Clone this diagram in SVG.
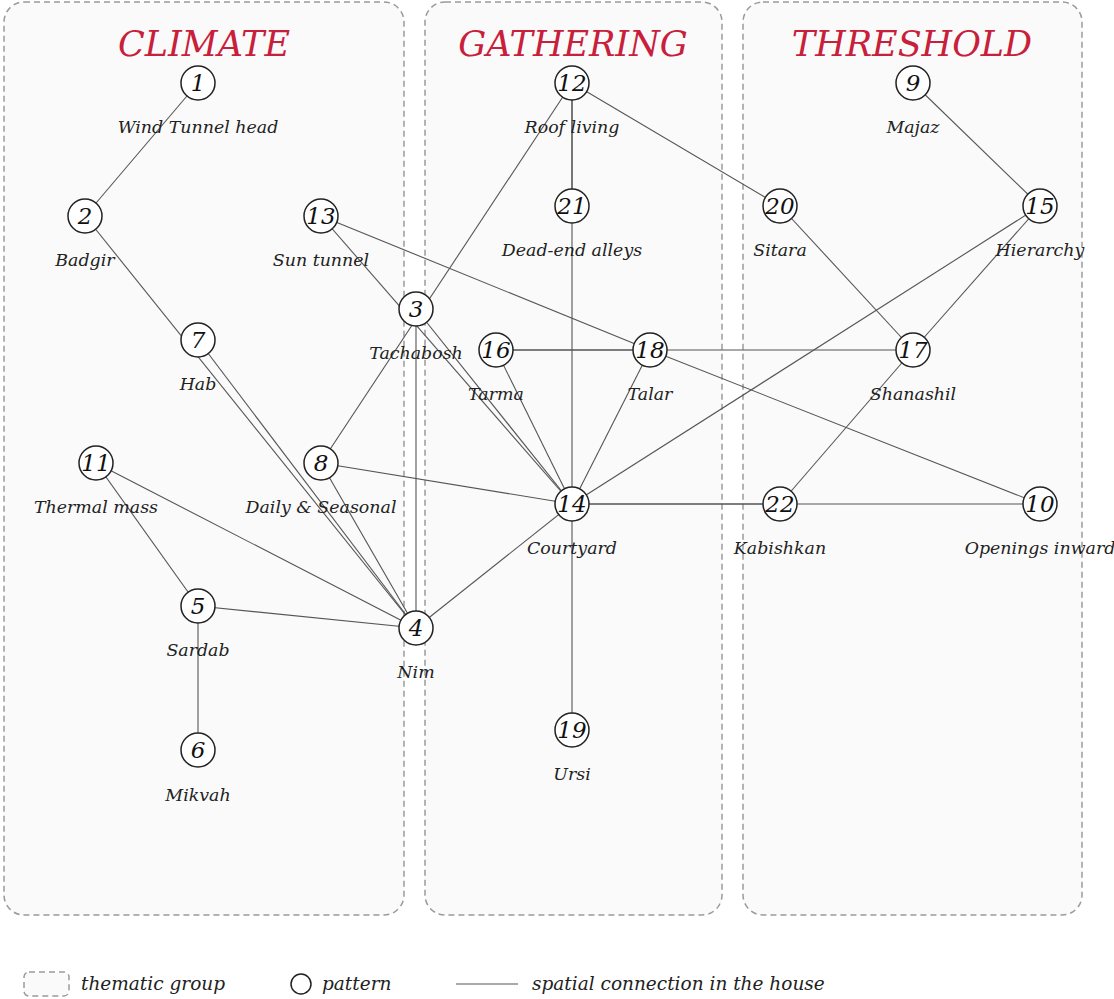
<svg xmlns="http://www.w3.org/2000/svg" width="1114" height="999" viewBox="0 0 1114 999">
<style>
.grp{fill:#fafafa;stroke:#9a9a9a;stroke-width:1.5;stroke-dasharray:6 4}
.title{font-family:"DejaVu Serif",serif;font-style:italic;font-size:35px;fill:#c8203a;text-anchor:middle}
.edge{stroke:#555;stroke-width:1.1;fill:none}
.node circle{fill:#fff;stroke:#222;stroke-width:1.5}
.num{font-family:"DejaVu Serif",serif;font-style:italic;font-size:23px;fill:#111;text-anchor:middle}
.lbl{font-family:"DejaVu Serif",serif;font-style:italic;font-size:17.4px;fill:#222;text-anchor:middle}
.leg{font-family:"DejaVu Serif",serif;font-style:italic;font-size:18.5px;fill:#222}
</style>
<rect width="1114" height="999" fill="#fff"/>
<g id="groups">
<rect class="grp" x="4" y="2" width="400" height="913" rx="20"/>
<rect class="grp" x="425" y="2" width="297" height="913" rx="20"/>
<rect class="grp" x="743" y="2" width="339" height="913" rx="20"/>
<text class="title" x="204" y="56">CLIMATE</text>
<text class="title" x="573" y="56">GATHERING</text>
<text class="title" x="912" y="56">THRESHOLD</text>
</g>
<g id="connectors">
<line class="edge" x1="198" y1="83" x2="85" y2="216"/>
<line class="edge" x1="85" y1="216" x2="416" y2="628"/>
<line class="edge" x1="198" y1="340" x2="416" y2="628"/>
<line class="edge" x1="321" y1="216" x2="572" y2="504"/>
<line class="edge" x1="321" y1="216" x2="650" y2="350"/>
<line class="edge" x1="572" y1="83" x2="321" y2="463"/>
<line class="edge" x1="416" y1="309" x2="416" y2="628"/>
<line class="edge" x1="416" y1="309" x2="572" y2="504"/>
<line class="edge" x1="321" y1="463" x2="572" y2="504"/>
<line class="edge" x1="321" y1="463" x2="416" y2="628"/>
<line class="edge" x1="96" y1="463" x2="416" y2="628"/>
<line class="edge" x1="96" y1="463" x2="198" y2="606"/>
<line class="edge" x1="198" y1="606" x2="416" y2="628"/>
<line class="edge" x1="198" y1="606" x2="198" y2="750"/>
<line class="edge" x1="416" y1="628" x2="572" y2="504"/>
<line class="edge" x1="572" y1="83" x2="572" y2="206"/>
<line class="edge" x1="572" y1="83" x2="572" y2="504"/>
<line class="edge" x1="572" y1="504" x2="572" y2="730"/>
<line class="edge" x1="572" y1="83" x2="780" y2="206"/>
<line class="edge" x1="496" y1="350" x2="650" y2="350"/>
<line class="edge" x1="496" y1="350" x2="913" y2="350"/>
<line class="edge" x1="496" y1="350" x2="572" y2="504"/>
<line class="edge" x1="650" y1="350" x2="572" y2="504"/>
<line class="edge" x1="650" y1="350" x2="1040" y2="504"/>
<line class="edge" x1="572" y1="504" x2="1040" y2="206"/>
<line class="edge" x1="572" y1="504" x2="780" y2="504"/>
<line class="edge" x1="572" y1="504" x2="1040" y2="504"/>
<line class="edge" x1="780" y1="504" x2="913" y2="350"/>
<line class="edge" x1="780" y1="206" x2="913" y2="350"/>
<line class="edge" x1="913" y1="83" x2="1040" y2="206"/>
<line class="edge" x1="1040" y1="206" x2="913" y2="350"/>
</g>
<g id="n1" class="node"><circle cx="198" cy="83" r="17"/><text class="num" x="198" y="91">1</text><text class="lbl" x="198" y="133">Wind Tunnel head</text></g>
<g id="n2" class="node"><circle cx="85" cy="216" r="17"/><text class="num" x="85" y="224">2</text><text class="lbl" x="85" y="266">Badgir</text></g>
<g id="n13" class="node"><circle cx="321" cy="216" r="17"/><text class="num" x="321" y="224">13</text><text class="lbl" x="321" y="266">Sun tunnel</text></g>
<g id="n3" class="node"><circle cx="416" cy="309" r="17"/><text class="num" x="416" y="317">3</text><text class="lbl" x="416" y="359">Tachabosh</text></g>
<g id="n7" class="node"><circle cx="198" cy="340" r="17"/><text class="num" x="198" y="348">7</text><text class="lbl" x="198" y="390">Hab</text></g>
<g id="n11" class="node"><circle cx="96" cy="463" r="17"/><text class="num" x="96" y="471">11</text><text class="lbl" x="96" y="513">Thermal mass</text></g>
<g id="n8" class="node"><circle cx="321" cy="463" r="17"/><text class="num" x="321" y="471">8</text><text class="lbl" x="321" y="513">Daily &amp; Seasonal</text></g>
<g id="n5" class="node"><circle cx="198" cy="606" r="17"/><text class="num" x="198" y="614">5</text><text class="lbl" x="198" y="656">Sardab</text></g>
<g id="n4" class="node"><circle cx="416" cy="628" r="17"/><text class="num" x="416" y="636">4</text><text class="lbl" x="416" y="678">Nim</text></g>
<g id="n6" class="node"><circle cx="198" cy="750" r="17"/><text class="num" x="198" y="758">6</text><text class="lbl" x="198" y="801">Mikvah</text></g>
<g id="n12" class="node"><circle cx="572" cy="83" r="17"/><text class="num" x="572" y="91">12</text><text class="lbl" x="572" y="133">Roof living</text></g>
<g id="n21" class="node"><circle cx="572" cy="206" r="17"/><text class="num" x="572" y="214">21</text><text class="lbl" x="572" y="256">Dead-end alleys</text></g>
<g id="n16" class="node"><circle cx="496" cy="350" r="17"/><text class="num" x="496" y="358">16</text><text class="lbl" x="496" y="400">Tarma</text></g>
<g id="n18" class="node"><circle cx="650" cy="350" r="17"/><text class="num" x="650" y="358">18</text><text class="lbl" x="650" y="400">Talar</text></g>
<g id="n14" class="node"><circle cx="572" cy="504" r="17"/><text class="num" x="572" y="512">14</text><text class="lbl" x="572" y="554">Courtyard</text></g>
<g id="n19" class="node"><circle cx="572" cy="730" r="17"/><text class="num" x="572" y="738">19</text><text class="lbl" x="572" y="780">Ursi</text></g>
<g id="n9" class="node"><circle cx="913" cy="83" r="17"/><text class="num" x="913" y="91">9</text><text class="lbl" x="913" y="133">Majaz</text></g>
<g id="n20" class="node"><circle cx="780" cy="206" r="17"/><text class="num" x="780" y="214">20</text><text class="lbl" x="780" y="256">Sitara</text></g>
<g id="n15" class="node"><circle cx="1040" cy="206" r="17"/><text class="num" x="1040" y="214">15</text><text class="lbl" x="1040" y="256">Hierarchy</text></g>
<g id="n17" class="node"><circle cx="913" cy="350" r="17"/><text class="num" x="913" y="358">17</text><text class="lbl" x="913" y="400">Shanashil</text></g>
<g id="n22" class="node"><circle cx="780" cy="504" r="17"/><text class="num" x="780" y="512">22</text><text class="lbl" x="780" y="554">Kabishkan</text></g>
<g id="n10" class="node"><circle cx="1040" cy="504" r="17"/><text class="num" x="1040" y="512">10</text><text class="lbl" x="1040" y="554">Openings inward</text></g>
<g id="legend">
<rect class="grp" x="24" y="972" width="45" height="24" rx="5"/>
<text class="leg" x="81" y="990">thematic group</text>
<circle cx="301" cy="984" r="10" fill="#fff" stroke="#222" stroke-width="1.5"/>
<text class="leg" x="322" y="990">pattern</text>
<line class="edge" x1="456" y1="984" x2="518" y2="984"/>
<text class="leg" x="532" y="990">spatial connection in the house</text>
</g>
</svg>
